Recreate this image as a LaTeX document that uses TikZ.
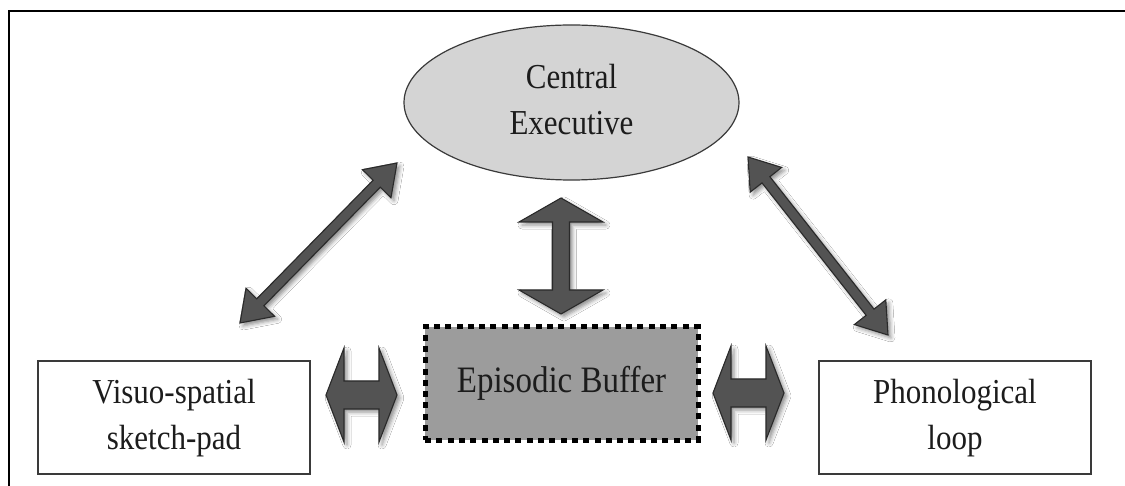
\documentclass[tikz,border=0pt]{standalone}
\usepackage{fontspec}
\usepackage{graphicx}
\setmainfont{Liberation Serif}
\usetikzlibrary{calc,shapes.geometric,shadows.blur}

\definecolor{execfill}{HTML}{D4D4D4}
\definecolor{bufferfill}{HTML}{9C9C9C}
\definecolor{arrowfill}{HTML}{535353}
\definecolor{arrowedge}{HTML}{2A2A2A}
\definecolor{inkgray}{HTML}{1C1C1C}
\definecolor{boxedge}{HTML}{3A3A3A}

% Slightly tall-set, centred lines of text
\newcommand\tallstack[2][0pt]{%
  \raisebox{#1}{\scalebox{1}[1.13]{\begin{tabular}{@{}c@{}}#2\end{tabular}}}}

% Block arrow with a head at both ends, from #1 to #2:
% #3 = half shaft width, #4 = half head width, #5 = head length
\newcommand\dblblock[5]{%
  \filldraw[blockarrow] (#1)
    -- ($(#1)!#5!(#2)!#4!90:(#2)$)
    -- ($(#1)!#5!(#2)!#3!90:(#2)$)
    -- ($(#2)!#5!(#1)!#3!-90:(#1)$)
    -- ($(#2)!#5!(#1)!#4!-90:(#1)$)
    -- (#2)
    -- ($(#2)!#5!(#1)!#4!90:(#1)$)
    -- ($(#2)!#5!(#1)!#3!90:(#1)$)
    -- ($(#1)!#5!(#2)!#3!-90:(#2)$)
    -- ($(#1)!#5!(#2)!#4!-90:(#2)$)
    -- cycle;}

\begin{document}
\begin{tikzpicture}[x=1pt,y=-1pt,
  txt/.style={font=\fontsize{31}{41}\selectfont, text=inkgray, align=center},
  blockarrow/.style={fill=arrowfill, draw=arrowedge, line width=1.1pt,
    line join=miter,
    blur shadow={shadow xshift=3pt, shadow yshift=-3pt,
      shadow blur radius=4pt, shadow opacity=45}},
  slavebox/.style={txt, draw=boxedge, line width=1.5pt, fill=white,
    minimum width=272pt, minimum height=113pt, inner sep=0pt},
  execnode/.style={txt, ellipse, draw=boxedge, line width=1.2pt, fill=execfill,
    minimum width=335pt, minimum height=155pt, inner sep=0pt},
  buffernode/.style={txt, font=\fontsize{33}{41}\selectfont,
    fill=bufferfill, draw=black, line width=5pt,
    dash pattern=on 6pt off 5.3pt,
    minimum width=273pt, minimum height=113pt, inner sep=0pt}]

\useasboundingbox (0,0) rectangle (1125,486);
\fill[white] (0,0) rectangle (1125,486);

% outer frame
\draw[line width=2.5pt, line cap=rect] (9,486) -- (9,11) -- (1125,11);

% components
\node[execnode] (ce) at (571.5,102.5) {\tallstack[3pt]{Central\\Executive}};
\node[slavebox] (vs) at (174,417.5)
  {\tallstack[-6pt]{Visuo-spatial\\sketch-pad}};
\node[slavebox] (pl) at (955,417.5)
  {\tallstack[-6pt]{Phonological\\loop}};
\node[buffernode] (eb) at (561.5,383.5)
  {\tallstack[-5pt]{Episodic Buffer}};

% arrow end points
\coordinate (vtop) at (561,198);
\coordinate (vbot) at (561,314);
\coordinate (lhl) at (326,395);
\coordinate (lhr) at (397,395);
\coordinate (rhl) at (713,393);
\coordinate (rhr) at (784,393);
\coordinate (ldlo) at (240,323);
\coordinate (ldhi) at (397,163);
\coordinate (rdhi) at (748,157);
\coordinate (rdlo) at (888,335);

% links
\dblblock{vtop}{vbot}{8.5pt}{42pt}{24pt}
\dblblock{lhl}{lhr}{14pt}{47pt}{18pt}
\dblblock{rhl}{rhr}{14pt}{47pt}{18pt}
\dblblock{ldlo}{ldhi}{5pt}{20pt}{29pt}
\dblblock{rdhi}{rdlo}{5pt}{20pt}{29pt}
\end{tikzpicture}
\end{document}
